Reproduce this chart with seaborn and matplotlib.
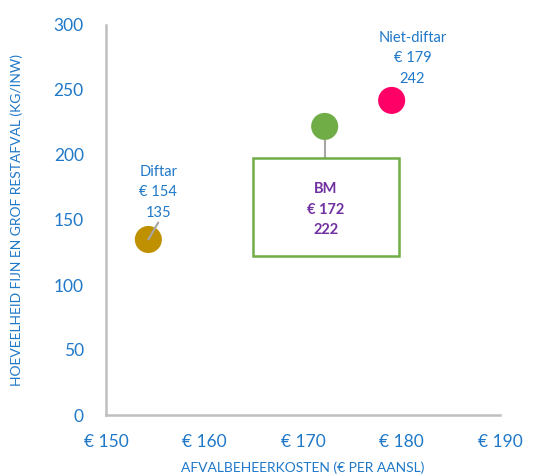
import pandas as pd
import matplotlib.pyplot as plt
import seaborn as sns

# Gegevens
groepen = ['Diftar', 'BM', 'Niet-diftar']
kosten = [154.3, 172.2, 179.0]
restafval = [135, 222, 242]
kleuren = ['#BF9000', '#70AD47', '#FF0066']

df = pd.DataFrame({'groep': groepen, 'kosten': kosten, 'restafval': restafval})

sns.set_style("white")
plt.rcParams['font.family'] = ['Lato', 'DejaVu Sans']

blauw = '#1F78C8'
paars = '#7030A0'
grijs = '#BFBFBF'

fig = plt.figure(figsize=(5.33, 4.74), dpi=100)
ax = fig.add_axes([106 / 533, 59 / 474, 394 / 533, 390 / 474])

sns.scatterplot(data=df, x='kosten', y='restafval', hue='groep',
                palette=dict(zip(groepen, kleuren)), s=380, edgecolor='none',
                legend=False, ax=ax, zorder=3)

ax.set_xlim(150, 190)
ax.set_ylim(0, 300)
ax.set_xticks(range(150, 191, 10))
ax.set_xticklabels([f'€ {v}' for v in range(150, 191, 10)])
ax.set_yticks(range(0, 301, 50))

ax.tick_params(axis='both', colors=blauw, labelsize=12.5, length=0)
ax.tick_params(axis='x', pad=14)
ax.tick_params(axis='y', pad=16)

for kant in ['top', 'right']:
    ax.spines[kant].set_visible(False)
for kant in ['left', 'bottom']:
    ax.spines[kant].set_color(grijs)
    ax.spines[kant].set_linewidth(1.8)

ax.set_xlabel('AFVALBEHEERKOSTEN (€ PER AANSL)', color=blauw, fontsize=10, labelpad=8)
ax.set_ylabel('HOEVEELHEID FIJN EN GROF RESTAFVAL (KG/INW)', color=blauw, fontsize=10, labelpad=22)

# Labels bij de punten
ax.plot([kosten[0], 155.3], [restafval[0], 148], color='#A6A6A6', lw=1.5, zorder=4)
ax.text(155.3, 150, f'{groepen[0]}\n€ {round(kosten[0])}\n{restafval[0]}', color=blauw,
        fontsize=10.5, ha='center', va='bottom', linespacing=1.6)

ax.text(181.1, 253, f'{groepen[2]}\n€ {round(kosten[2])}\n{restafval[2]}', color=blauw,
        fontsize=10.5, ha='center', va='bottom', linespacing=1.6)

# BM in kader
ax.plot([kosten[1], kosten[1]], [restafval[1], 197.7], color='#A6A6A6', lw=1.5, zorder=2)
ax.add_patch(plt.Rectangle((164.9, 122), 14.8, 75.7, fill=False,
                           edgecolor=kleuren[1], lw=1.8, zorder=2))
ax.text(172.3, 158, f'{groepen[1]}\n€ {round(kosten[1])}\n{restafval[1]}', color=paars,
        fontsize=10.5, fontweight='bold', ha='center', va='center', linespacing=1.6)

fig.savefig('out.png', dpi=100)
